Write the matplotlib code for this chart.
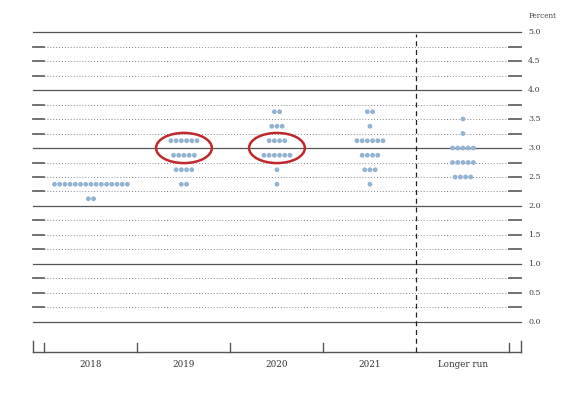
import matplotlib.pyplot as plt
from matplotlib.patches import Ellipse

periods = ['2018', '2019', '2020', '2021', 'Longer run']

# projected rate midpoints and number of participants at each
rates_2018 = [2.125, 2.375]
counts_2018 = [2, 15]
rates_2019 = [2.375, 2.625, 2.875, 3.125]
counts_2019 = [2, 4, 5, 6]
rates_2020 = [2.375, 2.625, 2.875, 3.125, 3.375, 3.625]
counts_2020 = [1, 1, 6, 4, 3, 2]
rates_2021 = [2.375, 2.625, 2.875, 3.125, 3.375, 3.625]
counts_2021 = [1, 3, 4, 6, 1, 2]
rates_long = [2.5, 2.75, 3.0, 3.25, 3.5]
counts_long = [4, 5, 5, 1, 1]

rates = [rates_2018, rates_2019, rates_2020, rates_2021, rates_long]
counts = [counts_2018, counts_2019, counts_2020, counts_2021, counts_long]

# columns circled in red, around this level
circled = ['2019', '2020']
circle_level = 3.0

plt.rcParams['font.family'] = ['DejaVu Serif']
fig = plt.figure(figsize=(5.78, 3.95), dpi=100)
ax = fig.add_axes([0, 0, 1, 1])
ax.set_xlim(-0.978, 5.237)
ax.set_ylim(-1.259, 5.552)
ax.axis('off')

left, right = -0.62, 4.62
inner_l, inner_r = -0.5, 4.5
grey = '#555555'

# horizontal grid: solid at whole numbers, dotted otherwise
for k in range(21):
    y = k * 0.25
    if k % 4 == 0:
        ax.plot([left, right], [y, y], color=grey, lw=0.9)
    else:
        ax.plot([inner_l, inner_r], [y, y], color='#888888', lw=0.7, ls=(0, (1, 2)))
        ax.plot([left, inner_l], [y, y], color='#666666', lw=1.3)
        ax.plot([inner_r, right], [y, y], color='#666666', lw=1.3)
    if k % 2 == 0:
        ax.text(4.70, y, f'{y:.1f}', fontsize=5.8, ha='left', va='center', color='#444444')

ax.text(4.70, 5.27, 'Percent', fontsize=5.2, ha='left', va='center', color='#444444')

# bottom axis with column dividers
base = -0.517
ax.plot([left, right], [base, base], color=grey, lw=1.0)
for xt in [left, right]:
    ax.plot([xt, xt], [base, base + 0.19], color=grey, lw=1.0)
for xt in [inner_l, 0.5, 1.5, 2.5, inner_r]:
    ax.plot([xt, xt], [base, base + 0.16], color=grey, lw=1.0)
ax.plot([3.5, 3.5], [base, 4.97], color='#222222', lw=0.9, ls=(0, (4, 3)))

for i, p in enumerate(periods):
    ax.text(i, -0.74, p, fontsize=6.3, ha='center', va='center', color='#333333')

# dots
step = 0.056
for i in range(len(periods)):
    for r, n in zip(rates[i], counts[i]):
        xs = [i + (j - (n - 1) / 2) * step for j in range(n)]
        ax.scatter(xs, [r] * n, s=12, color='#93b3d3', edgecolors='none', zorder=3)

for p in circled:
    i = periods.index(p)
    ax.add_patch(Ellipse((i, circle_level), 0.6, 0.52, fill=False,
                         edgecolor='#c0282d', lw=1.8, zorder=4))

fig.savefig('out.png', dpi=100)
